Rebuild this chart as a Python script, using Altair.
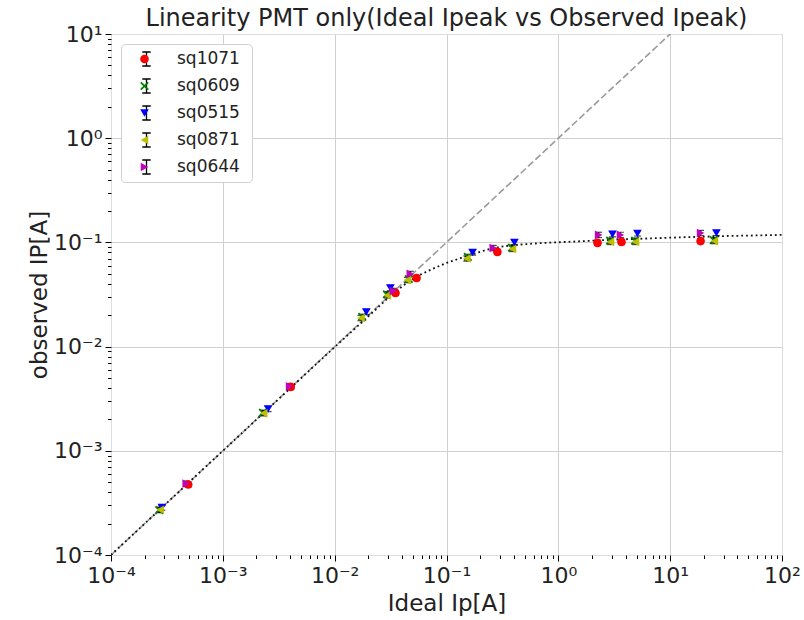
import altair as alt
import pandas as pd

# ---------------- data ----------------
SERIES = ["sq1071", "sq0609", "sq0515", "sq0871", "sq0644"]
COLORS = ["#ff0000", "#008000", "#0000ff", "#bfbf00", "#bf00bf"]
X_PATH = "M-1,-0.72L-0.72,-1L0,-0.28L0.72,-1L1,-0.72L0.28,0L1,0.72L0.72,1L0,0.28L-0.72,1L-1,0.72L-0.28,0Z"
SHAPES = ["circle", X_PATH, "triangle-down", "triangle-left", "triangle-right"]

SQ1071_X = [4.9e-4, 4.05e-3, 0.0350, 0.0540, 0.285, 2.24, 3.67, 18.7]
SQ1071_Y = [4.75e-4, 4.10e-3, 0.0327, 0.0455, 0.081, 0.099, 0.101, 0.103]

SQ0609_X = [2.7e-4, 2.28e-3, 0.0176, 0.0293, 0.0460, 0.155, 0.385, 2.90, 4.85, 24.5]
SQ0609_Y = [2.7e-4, 2.32e-3, 0.0193, 0.0318, 0.0445, 0.0725, 0.089, 0.104, 0.104, 0.105]

SQ0515_X = [2.85e-4, 2.54e-3, 0.0192, 0.0315, 0.171, 0.405, 3.05, 5.1, 25.9]
SQ0515_Y = [2.85e-4, 2.52e-3, 0.0215, 0.0365, 0.080, 0.100, 0.120, 0.122, 0.123]

SQ0871_X = [2.75e-4, 2.32e-3, 0.0172, 0.0296, 0.0447, 0.152, 0.389, 2.93, 4.9, 24.9]
SQ0871_Y = [2.72e-4, 2.29e-3, 0.0188, 0.0310, 0.0435, 0.0700, 0.0865, 0.101, 0.101, 0.103]

SQ0644_X = [4.7e-4, 3.95e-3, 0.0335, 0.0475, 0.262, 2.29, 3.59, 18.7]
SQ0644_Y = [4.85e-4, 4.15e-3, 0.0342, 0.0498, 0.0883, 0.118, 0.118, 0.123]

REL_ERR = [0.06, 0.06, 0.06, 0.06, 0.06]

# ideal line y = x
DIAG_X = [1e-4, 100.0]
DIAG_Y = [1e-4, 100.0]

# dotted saturation curve
FIT_X = [1e-4, 1e-3, 0.01, 0.02, 0.03, 0.04, 0.05, 0.06, 0.075, 0.1, 0.13, 0.17,
         0.23, 0.3, 0.4, 0.7, 1.3, 3.0, 10.0, 30.0, 100.0]
FIT_Y = [1e-4, 1e-3, 0.0099, 0.0195, 0.0292, 0.0378, 0.0445, 0.0497, 0.0557, 0.0635,
         0.0700, 0.0770, 0.0850, 0.0905, 0.0945, 0.0985, 0.1016, 0.106, 0.111, 0.115, 0.118]

X_DECADES = [-4, -3, -2, -1, 0, 1, 2]
Y_DECADES = [-4, -3, -2, -1, 0, 1]
SUP_LABELS = ["10\u207b\u2074", "10\u207b\u00b3", "10\u207b\u00b2", "10\u207b\u00b9",
              "10\u2070", "10\u00b9", "10\u00b2"]

# ---------------- tables ----------------
series_x = [SQ1071_X, SQ0609_X, SQ0515_X, SQ0871_X, SQ0644_X]
series_y = [SQ1071_Y, SQ0609_Y, SQ0515_Y, SQ0871_Y, SQ0644_Y]
rows = []
for name, xs, ys, e in zip(SERIES, series_x, series_y, REL_ERR):
    for x, y in zip(xs, ys):
        rows.append({"series": name, "eb": name, "x": x, "y": y,
                     "lo": y / (1 + e), "hi": y * (1 + e)})
df = pd.DataFrame(rows)
diag = pd.DataFrame({"x": DIAG_X, "y": DIAG_Y})
fit = pd.DataFrame({"x": FIT_X, "y": FIT_Y})


def tick_values(decades):
    vals = []
    for d in decades:
        vals.append(10.0 ** d)
        if d != decades[-1]:
            for m in range(2, 10):
                vals.append(m * 10.0 ** d)
    return vals


FONT = "DejaVu Sans"
TXT = "#222222"
LOGV = "log(datum.value)/LN10"
MAJOR = f"abs({LOGV} - round({LOGV})) < 0.01"
LAB_ARR = "[" + ",".join("'" + s + "'" for s in SUP_LABELS) + "]"
LABEL_EXPR = f"({MAJOR}) ? {LAB_ARR}[round({LOGV}) + 4] : ''"


def make_axis(values, title, lo, hi, orient):
    grid_test = f"({MAJOR}) && datum.value > {lo * 1.01} && datum.value < {hi * 0.99}"
    kw = dict(
        values=values,
        labelExpr=LABEL_EXPR,
        labelOverlap=False,
        labelFlush=False,
        grid=True,
        gridColor="#d0d0d0",
        gridWidth=1,
        gridOpacity={"condition": {"test": grid_test, "value": 1}, "value": 0},
        tickSize={"condition": {"test": MAJOR, "value": 6}, "value": 3.5},
        tickColor="#000000",
        tickWidth=1,
        domain=False,
        labelFont=FONT,
        labelFontSize=22,
        labelColor=TXT,
        title=title,
        titleFont=FONT,
        titleFontSize=23,
        titleFontWeight="normal",
        titleColor=TXT,
    )
    if orient == "x":
        kw.update(labelPadding=4, titleY=55, titleBaseline="alphabetic")
    else:
        kw.update(labelPadding=3, titleX=-72, titleBaseline="middle")
    return alt.Axis(**kw)


xscale = alt.Scale(type="log", domain=[1e-4, 100], nice=False)
yscale = alt.Scale(type="log", domain=[1e-4, 10], nice=False)
xaxis = make_axis(tick_values(X_DECADES), "Ideal Ip[A]", 1e-4, 100, "x")
yaxis = make_axis(tick_values(Y_DECADES), "observed IP[A]", 1e-4, 10, "y")

IBEAM = "M-0.6,-1H0.6M0,-1V1M-0.6,1H0.6"

# legend of the error-bar glyphs (drawn first, carries the white box); no labels of its own
eb_legend = alt.Legend(
    orient="none", legendX=10, legendY=10, title=None,
    symbolType=IBEAM, symbolSize=196, symbolStrokeWidth=1.3,
    symbolFillColor="transparent", symbolOffset=11,
    labelExpr="''", labelFont=FONT, labelFontSize=17, labelOffset=91,
    clipHeight=18, rowPadding=9, padding=6, fillColor="white", strokeColor="#d0d0d0",
    cornerRadius=4,
)
# legend of the coloured markers, laid over it
mk_legend = alt.Legend(
    orient="none", legendX=10, legendY=10, title=None,
    symbolSize=75, symbolStrokeWidth=0, symbolOffset=9,
    labelColor=TXT, labelFont=FONT, labelFontSize=17, labelOffset=24,
    clipHeight=18, rowPadding=9, padding=6,
)

base_x = alt.X("x:Q", scale=xscale, axis=xaxis)
base_y = alt.Y("y:Q", scale=yscale, axis=yaxis)

diag_layer = alt.Chart(diag).mark_line(
    color="#9a9a9a", strokeDash=[7, 3], strokeWidth=1.6, clip=True
).encode(x=base_x, y=base_y)

fit_layer = alt.Chart(fit).mark_line(
    color="#111111", strokeDash=[1.8, 3], strokeWidth=1.8, clip=True
).encode(x=base_x, y=base_y)

# error bars: the color scale has no explicit domain so its legend stays separate
rule_layer = alt.Chart(df).mark_rule(strokeWidth=1.2).encode(
    x=base_x,
    y=alt.Y("lo:Q", scale=yscale, axis=yaxis),
    y2="hi:Q",
    color=alt.Color("eb:N", scale=alt.Scale(range=["#000000"] * 5), legend=eb_legend),
)

cap_lo = alt.Chart(df).mark_tick(orient="horizontal", size=7, thickness=1.2, color="#000000").encode(
    x=base_x, y=alt.Y("lo:Q", scale=yscale, axis=yaxis))
cap_hi = alt.Chart(df).mark_tick(orient="horizontal", size=7, thickness=1.2, color="#000000").encode(
    x=base_x, y=alt.Y("hi:Q", scale=yscale, axis=yaxis))

pt_layer = alt.Chart(df).mark_point(filled=True, size=75, opacity=1, strokeWidth=0).encode(
    x=base_x,
    y=base_y,
    fill=alt.Fill("series:N", scale=alt.Scale(domain=SERIES, range=COLORS), legend=mk_legend),
    shape=alt.Shape("series:N", scale=alt.Scale(domain=SERIES, range=SHAPES), legend=mk_legend),
)

chart = alt.layer(
    diag_layer, fit_layer, rule_layer, cap_lo, cap_hi, pt_layer
).properties(
    width=671,
    height=521,
    autosize=alt.AutoSizeParams(type="none"),
    padding={"left": 111, "top": 34, "right": 22, "bottom": 65},
    title=alt.TitleParams(
        "Linearity PMT only(Ideal Ipeak vs Observed Ipeak)",
        font=FONT, fontSize=24, fontWeight="normal", color=TXT, offset=4, dy=12,
        anchor="middle", frame="group",
    ),
).configure_view(stroke="#000000", strokeWidth=1).configure(background="white")

chart.save("out.html", embed_options={"renderer": "svg", "actions": False})
